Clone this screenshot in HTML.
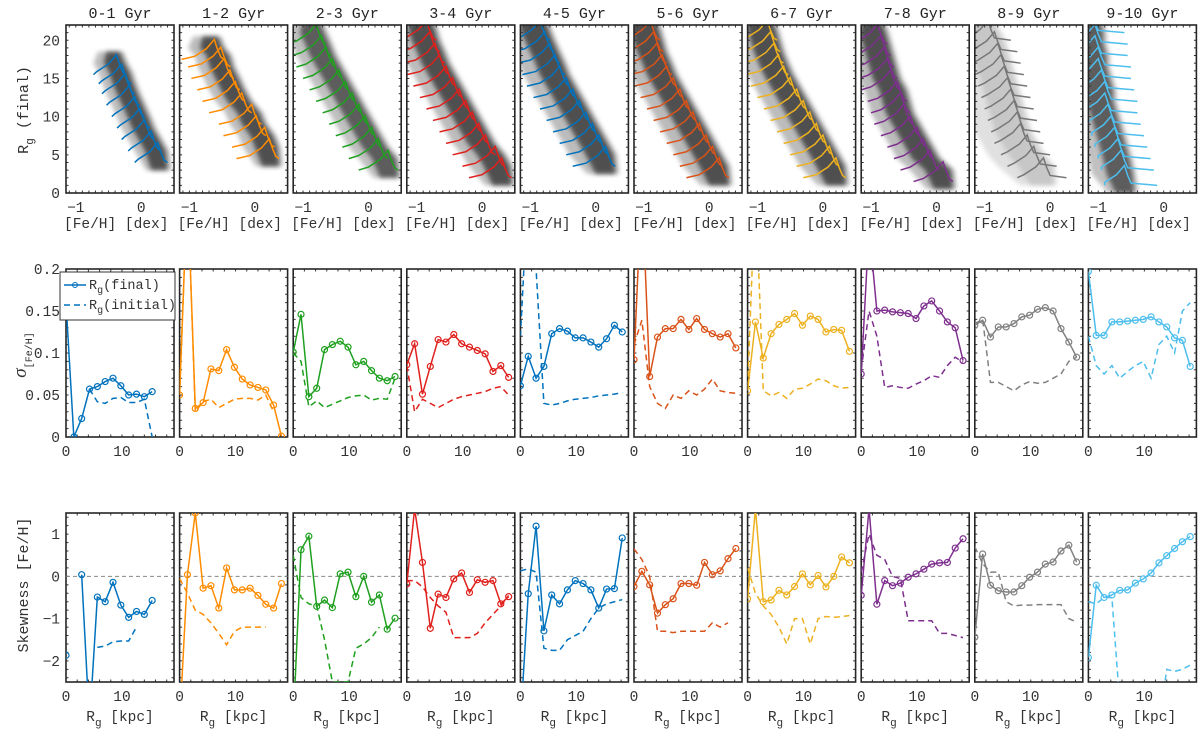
<!DOCTYPE html>
<html><head><meta charset="utf-8"><style>
body{margin:0;background:#fff;}
svg{display:block;font-family:"Liberation Mono",monospace;}
</style></head><body>
<svg id="fig" width="1200" height="737" viewBox="0 0 1200 737" xmlns="http://www.w3.org/2000/svg">
<defs><filter id="blur" x="-20%" y="-20%" width="140%" height="140%"><feGaussianBlur stdDeviation="2.5"/></filter></defs>
</svg>
<script>
const titles=["0-1 Gyr","1-2 Gyr","2-3 Gyr","3-4 Gyr","4-5 Gyr","5-6 Gyr","6-7 Gyr","7-8 Gyr","8-9 Gyr","9-10 Gyr"];
const colors=["#0072BD","#FF8C00","#1FA01F","#E0201C","#0072BD","#D95319","#EDB120","#7E2F8E","#808080","#4DBEEE"];
const radii=[0,1.4,2.8,4.2,5.6,7,8.4,9.8,11.2,12.6,14,15.4,16.8,18.2];
// ridge data (top row)
const ridgeLevels=[
[4,5.5,7,8.5,10,11.5,13,14.3,15.5],
[4.5,6,7.5,9,10.5,12,13.5,15,16.5,17.5],
[3,4.5,6,7.5,9,10.5,12,13.5,15,16.5,18,19.5],
[2,3.5,5,6.5,8,9.5,11,12.5,14,15.5,17,18.5,20],
[3.5,5,6.5,8,9.5,11,12.5,14,15.5,17,18.5,20],
[2,3.5,5,6.5,8,9.5,11,12.5,14,15.5,17,18.5,20],
[2,3.5,5,6.5,8,9.5,11,12.5,14,15.5,17,18.5,20],
[1.5,3,4.5,6,7.5,9,10.5,12,13.5,15,16.5,18,19.5],
[2,3.5,5,6.5,8,9.5,11,12.5,14,15.5,17,18.5,20],
[1,3,4.5,6,7.5,9,10.5,12,13.5,15,16.5,18,19.5,21]];
const ridgePeaks=[
[0.25,0.15,0.05,-0.02,-0.1,-0.18,-0.25,-0.3,-0.38],
[0.22,0.15,0.02,-0.05,-0.2,-0.3,-0.38,-0.47,-0.52,-0.62],
[0.3,0.15,0.05,-0.05,-0.15,-0.25,-0.35,-0.45,-0.55,-0.65,-0.72,-0.8],
[0.3,0.2,0.05,-0.05,-0.15,-0.25,-0.35,-0.45,-0.55,-0.65,-0.72,-0.8,-0.85],
[0.15,0.05,-0.05,-0.15,-0.25,-0.35,-0.45,-0.55,-0.62,-0.7,-0.78,-0.85],
[0.15,0.05,-0.05,-0.15,-0.25,-0.35,-0.45,-0.55,-0.65,-0.72,-0.8,-0.85,-0.9],
[0.2,0.1,0,-0.1,-0.2,-0.3,-0.4,-0.5,-0.6,-0.68,-0.75,-0.8,-0.85],
[0.1,-0.1,-0.2,-0.3,-0.4,-0.5,-0.55,-0.6,-0.7,-0.75,-0.8,-0.85,-0.9],
[-0.1,-0.25,-0.35,-0.45,-0.5,-0.55,-0.6,-0.65,-0.7,-0.75,-0.8,-0.85,-0.95],
[-0.6,-0.65,-0.7,-0.75,-0.8,-0.85,-0.9,-0.9,-0.95,-1.0,-1.0,-1.05,-1.05,-1.1]];
const ridgeStartOff=[0.35,0.5,0.45,0.5,0.5,0.5,0.5,0.45,0.4,0.3];
const ridgeTail=[0.15,0.15,0.15,0.15,0.15,0.15,0.15,0.15,0.35,0.5];
const cloudSpread=[0.35,0.4,0.45,0.5,0.55,0.55,0.55,0.5,0.7,0.5];
const cloudFill=["#222","#222","#333","#222","#222","#222","#222","#222","#999","#333"];
// sigma (middle row)
const sigFinal=[
[0.16,0,0.022,0.057,0.06,0.066,0.07,0.061,0.05,0.051,0.048,0.054,null,null],
[0.05,0.3,0.034,0.041,0.081,0.079,0.104,0.083,0.069,0.062,0.059,0.056,0.038,0.001],
[0.101,0.146,0.048,0.058,0.104,0.11,0.114,0.107,0.086,0.09,0.079,0.07,0.067,0.072],
[0.086,0.111,0.051,0.084,0.116,0.113,0.122,0.111,0.107,0.103,0.099,0.078,0.085,0.071],
[0.061,0.096,0.07,0.084,0.123,0.129,0.126,0.118,0.118,0.113,0.107,0.117,0.133,0.125],
[0.092,0.3,0.072,0.119,0.129,0.129,0.14,0.128,0.141,0.128,0.123,0.119,0.123,0.106],
[0.055,0.137,0.094,0.123,0.134,0.14,0.147,0.133,0.144,0.14,0.125,0.128,0.127,0.102],
[0.075,0.25,0.15,0.151,0.149,0.148,0.147,0.141,0.156,0.162,0.15,0.137,0.13,0.091],
[0.133,0.139,0.119,0.131,0.131,0.135,0.143,0.145,0.152,0.154,0.15,0.129,0.113,0.095],
[0.197,0.121,0.121,0.137,0.137,0.138,0.139,0.14,0.143,0.137,0.131,0.118,0.115,0.084]];
const sigInitial=[
[null,null,null,0.057,0.042,0.04,0.046,0.047,0.041,0.041,0.045,0,null,null],
[0.05,0.3,0.03,0.042,0.045,0.035,0.04,0.045,0.046,0.046,0.044,0.05,0.03,null],
[0.1,0.09,0.036,0.043,0.035,0.039,0.043,0.047,0.049,0.05,0.044,0.046,0.045,0.07],
[0.085,0.03,0.045,0.04,0.035,0.04,0.045,0.048,0.05,0.052,0.054,0.058,0.06,0.05],
[0.12,0.3,0.2,0.04,0.038,0.04,0.043,0.045,0.046,0.047,0.049,0.05,0.051,0.053],
[0.11,0.139,0.06,0.04,0.034,0.05,0.046,0.055,0.05,0.057,0.069,0.055,0.053,0.052],
[0.06,0.3,0.055,0.049,0.053,0.046,0.057,0.058,0.063,0.069,0.067,0.061,0.058,0.059],
[0.08,0.15,0.12,0.059,0.061,0.059,0.058,0.063,0.067,0.073,0.071,0.085,0.095,0.089],
[0.135,0.14,0.065,0.065,0.06,0.055,0.062,0.066,0.064,0.065,0.07,0.075,0.09,0.095],
[0.12,0.085,0.075,0.085,0.07,0.078,0.085,0.09,0.07,0.11,0.12,0.1,0.15,0.16]];
// skewness (bottom row)
const skFinal=[
[-1.87,null,0.04,-3.5,-0.49,-0.6,-0.14,-0.68,-0.97,-0.83,-0.9,-0.57,null,null],
[-3.5,0.04,1.5,-0.28,-0.22,-0.75,0.2,-0.32,-0.32,-0.28,-0.45,-0.66,-0.75,-0.17],
[-3.5,0.63,0.95,-0.71,-0.56,-0.74,0.06,0.1,-0.48,0,-0.61,-0.44,-1.25,-0.99],
[-0.18,1.6,0.33,-1.23,-0.42,-0.5,-0.06,0.08,-0.38,-0.08,-0.14,-0.1,-0.65,-0.48],
[-3.5,-0.41,1.19,-1.29,-0.44,-0.65,-0.32,-0.1,-0.17,-0.32,-0.75,-0.3,-0.29,0.91],
[-0.24,0.12,-0.2,-0.87,-0.67,-0.53,-0.17,-0.17,-0.21,0.33,0.04,0.13,0.42,0.66],
[-0.53,1.6,-0.6,-0.56,-0.33,-0.44,-0.24,0.06,-0.2,0.02,-0.25,0,0.46,0.32],
[-0.45,1.6,-0.66,-0.1,-0.22,-0.16,-0.02,0.06,0.17,0.29,0.32,0.33,0.67,0.89],
[-1.44,0.53,-0.21,-0.34,-0.37,-0.37,-0.22,-0.02,0.1,0.29,0.34,0.6,0.74,0.34],
[-1.92,-0.21,-0.5,-0.44,-0.33,-0.32,-0.16,-0.06,0.08,0.32,0.49,0.66,0.82,0.94]];
const skInitial=[
[null,null,null,null,-1.68,-1.65,-1.55,-1.53,-1.53,-1.2,null,null,null,null],
[-0.05,-0.4,-0.8,-0.9,-1.1,-1.35,-1.62,-1.3,-1.2,-1.2,-1.2,-1.2,null,null],
[0.5,-0.5,-0.65,-0.7,-1.5,-2.5,-2.5,-2.5,-1.7,-1.6,-1.45,-1.2,null,null],
[-0.1,-0.1,-0.25,-0.5,-0.7,-0.85,-1.45,-1.45,-1.45,-1.35,-1.1,-0.9,-0.7,-0.45],
[0.13,0.18,0.1,-1.7,-1.75,-1.75,-1.5,-1.4,-1.3,-1.0,-0.75,-0.65,-0.6,-0.55],
[0.65,0.4,0,-1.3,-1.3,-1.33,-1.3,-1.3,-1.3,-1.3,-1.1,-1.2,-1.1,null],
[0.2,-0.4,-0.7,-0.9,-1.2,-1.6,-1.0,-1.0,-1.6,-1.0,-0.95,-0.97,-0.95,-0.93],
[0.1,1.0,0.5,0.4,0,-0.05,-1.05,-1.05,-1.05,-1.05,-1.35,-1.35,-1.4,-1.45],
[0.7,0.3,0.1,0.1,-0.6,-0.7,-0.68,-0.68,-0.67,-0.67,-0.67,-0.67,-1.0,-1.08],
[-0.6,-0.65,-0.5,-0.5,-3,-3.5,-3.5,-3.5,-3.5,-3.5,-2.2,-2.25,-2.2,-2.1]];

const NS="http://www.w3.org/2000/svg";
const svg=document.getElementById('fig');
function mk(tag,attrs,parent){const e=document.createElementNS(NS,tag);for(const k in attrs)e.setAttribute(k,attrs[k]);(parent||svg).appendChild(e);return e;}
function txt(x,y,s,attrs,parent){const t=mk('text',Object.assign({x:x,y:y,'font-size':14.5,fill:'#333'},attrs||{}),parent);t.textContent=s;return t;}
const PX0=66,DX=113.6,PW=108;
const rows={top:{y0:25,y1:193},mid:{y0:269,y1:437},bot:{y0:513,y1:682}};

function frame(g,x0,y0,y1,xr,yr,xMinor,yMinor){
  const h=y1-y0;
  const sx=v=>x0+(v-xr[0])/(xr[1]-xr[0])*PW, sy=v=>y1-(v-yr[0])/(yr[1]-yr[0])*h;
  let d='';
  for(let v=Math.ceil(xr[0]/xMinor)*xMinor;v<=xr[1]+1e-9;v+=xMinor){const X=sx(v);const L=2.5;d+=`M${X},${y1}v${-L}M${X},${y0}v${L}`;}
  for(let v=Math.ceil(yr[0]/yMinor-1e-9)*yMinor;v<=yr[1]+1e-9;v+=yMinor){const Y=sy(v);d+=`M${x0},${Y}h2.5M${x0+PW},${Y}h-2.5`;}
  const tk=mk('path',{d:d,stroke:'#333','stroke-width':1,fill:'none'},g);
  
  
  const r=mk('rect',{x:x0,y:y0,width:PW,height:h,fill:'none',stroke:'#262626','stroke-width':1.6},g);
  
  
  return {sx,sy};
}
function clip(id,x0,y0,y1){const c=mk('clipPath',{id:id},svg.querySelector('defs'));mk('rect',{x:x0,y:y0,width:PW,height:y1-y0},c);}

for(let i=0;i<10;i++){
  const x0=PX0+i*DX, col=colors[i];
  // ---------- TOP ----------
  const gt=mk('g',{});
  
  
  clip('ct'+i,x0,rows.top.y0,rows.top.y1);
  const xr=[-1.15,0.5], yr=[0,22];
  const sx=v=>x0+(v-xr[0])/(xr[1]-xr[0])*PW, sy=v=>rows.top.y1-(v-yr[0])/(yr[1]-yr[0])*(rows.top.y1-rows.top.y0);
  const gc=mk('g',{'clip-path':`url(#ct${i})`},gt);
  const lv=ridgeLevels[i], pk=ridgePeaks[i];
  function cloudPts(sp,ex){let a=[],b=[];for(let k=0;k<lv.length;k++){a.push([sx(pk[k]+0.12+ex),sy(lv[k]+1.5)]);b.push([sx(pk[k]-sp),sy(lv[k]+1.5)]);}
    a.unshift([sx(pk[0]+0.15+ex),sy(lv[0]-1)]);b.unshift([sx(pk[0]-sp*0.5),sy(lv[0]-1)]);
    a.push([sx(pk[pk.length-1]+0.05+ex),sy(lv[lv.length-1]+3)]);b.push([sx(pk[pk.length-1]-sp*0.8),sy(lv[lv.length-1]+3)]);
    return a.concat(b.reverse()).map(p=>p.join(',')).join(' ');}
  const c1=mk('polygon',{points:cloudPts(cloudSpread[i],0.06),fill:cloudFill[i],opacity:0.3,filter:'url(#blur)'},gc);
  
  
  const c2=mk('polygon',{points:cloudPts(cloudSpread[i]*0.55,0),fill:cloudFill[i],opacity:i==8?0.35:0.7,filter:'url(#blur)'},gc);
  
  
  for(let k=0;k<lv.length;k++){
    const L=lv[k],p=pk[k],st=p-ridgeStartOff[i];
    const pts=[[st,L],[p-0.3,L+0.4],[p-0.12,L+1.4],[p,L+2.6],[p+0.05,L+1.3],[p+0.1,L+0.3],[p+ridgeTail[i],L]];
    const rl=mk('polyline',{points:pts.map(q=>sx(q[0])+','+sy(q[1])).join(' '),fill:'none',stroke:i==8?'#777':col,'stroke-width':1.5},gc);
    
    
  }
  frame(gt,x0,rows.top.y0,rows.top.y1,xr,yr,0.1,1);
  txt(sx(-1),212,'−1',{'text-anchor':'middle'},gt);
  txt(sx(0),212,'0',{'text-anchor':'middle'},gt);
  const xl=txt(x0-2,228,'[Fe/H] [dex]',{'text-anchor':'start'},gt);
  
  
  const tt=txt(x0+PW/2,18,titles[i],{'text-anchor':'middle','font-size':15,fill:'#222'},gt);
  
  
  if(i==0){[0,5,10,15,20].forEach(v=>txt(x0-6,sy(v)+5,String(v),{'text-anchor':'end'},gt));}

  // ---------- MID ----------
  const gm=mk('g',{});
  
  
  clip('cm'+i,x0,rows.mid.y0,rows.mid.y1);
  const fm=frame(gm,x0,rows.mid.y0,rows.mid.y1,[0,19.3],[0,0.2],2,0.01);
  drawSeries(gm,'cm'+i,fm,sigFinal[i],sigInitial[i],col);
  txt(fm.sx(0),456,'0',{'text-anchor':'middle'},gm);
  txt(fm.sx(10),456,'10',{'text-anchor':'middle'},gm);
  if(i==0){[[0,'0'],[0.05,'0.05'],[0.1,'0.1'],[0.15,'0.15'],[0.2,'0.2']].forEach(a=>txt(x0-6,fm.sy(a[0])+5,a[1],{'text-anchor':'end'},gm));}

  // ---------- BOT ----------
  const gb=mk('g',{});
  
  
  clip('cb'+i,x0,rows.bot.y0,rows.bot.y1);
  const fb=frame(gb,x0,rows.bot.y0,rows.bot.y1,[0,19.3],[-2.5,1.5],2,0.2);
  const zl=mk('line',{x1:x0,x2:x0+PW,y1:fb.sy(0),y2:fb.sy(0),stroke:'#888','stroke-dasharray':'4,3','stroke-width':1},gb);
  
  
  drawSeries(gb,'cb'+i,fb,skFinal[i],skInitial[i],col);
  txt(fb.sx(0),701,'0',{'text-anchor':'middle'},gb);
  txt(fb.sx(10),701,'10',{'text-anchor':'middle'},gb);
  const rx=txt(x0+PW/2,721,'',{'text-anchor':'middle'},gb);
  rx.innerHTML='R<tspan dy="5" font-size="11">g</tspan><tspan dy="-5"> [kpc]</tspan>';
  
  
  if(i==0){[-2,-1,0,1].forEach(v=>txt(x0-6,fb.sy(v)+5,v<0?'−'+(-v):String(v),{'text-anchor':'end'},gb));}
}
function drawSeries(g,cid,f,fin,ini,col){
  const gc=mk('g',{'clip-path':`url(#${cid})`},g);
  function path(arr){let d='',pen=false;arr.forEach((v,k)=>{if(v==null){pen=false;return;}d+=(pen?'L':'M')+f.sx(radii[k])+','+f.sy(v);pen=true;});return d;}
  const pi=mk('path',{d:path(ini),fill:'none',stroke:col,'stroke-width':1.5,'stroke-dasharray':'6,4'},gc);
  
  
  const pf=mk('path',{d:path(fin),fill:'none',stroke:col,'stroke-width':1.5},gc);
  
  
  fin.forEach((v,k)=>{if(v==null)return;const m=mk('circle',{cx:f.sx(radii[k]),cy:f.sy(v),r:3,fill:'none',stroke:col,'stroke-width':1.2},gc);
    
    });
}
const y1=txt(0,0,'',{transform:'translate(28,110) rotate(-90)','text-anchor':'middle','font-size':15});
y1.innerHTML='R<tspan dy="5" font-size="11">g</tspan><tspan dy="-5"> (final)</tspan>';


const y2=txt(0,0,'',{transform:'translate(26,355) rotate(-90)','text-anchor':'middle','font-size':15});
y2.innerHTML='<tspan font-family="Liberation Serif" font-style="italic" font-size="19">σ</tspan><tspan dy="6" font-size="10">[Fe/H]</tspan>';


const y3=txt(0,0,'Skewness [Fe/H]',{transform:'translate(28,585) rotate(-90)','text-anchor':'middle','font-size':15});


const lg=mk('g',{});


mk('rect',{x:60,y:272,width:115,height:48,fill:'#fff',stroke:'#333','stroke-width':1},lg);
mk('line',{x1:64,x2:86,y1:285,y2:285,stroke:colors[0],'stroke-width':1.5},lg);
mk('circle',{cx:75,cy:285,r:2.5,fill:'none',stroke:colors[0]},lg);
const l1=txt(89,289,'',{'font-size':13.5},lg);
l1.innerHTML='R<tspan dy="4" font-size="10">g</tspan><tspan dy="-4">(final)</tspan>';


mk('line',{x1:64,x2:86,y1:305,y2:305,stroke:colors[0],'stroke-width':1.5,'stroke-dasharray':'6,4'},lg);
const l2=txt(89,309,'',{'font-size':13.5},lg);
l2.innerHTML='R<tspan dy="4" font-size="10">g</tspan><tspan dy="-4">(initial)</tspan>';


</script>
</body></html>
